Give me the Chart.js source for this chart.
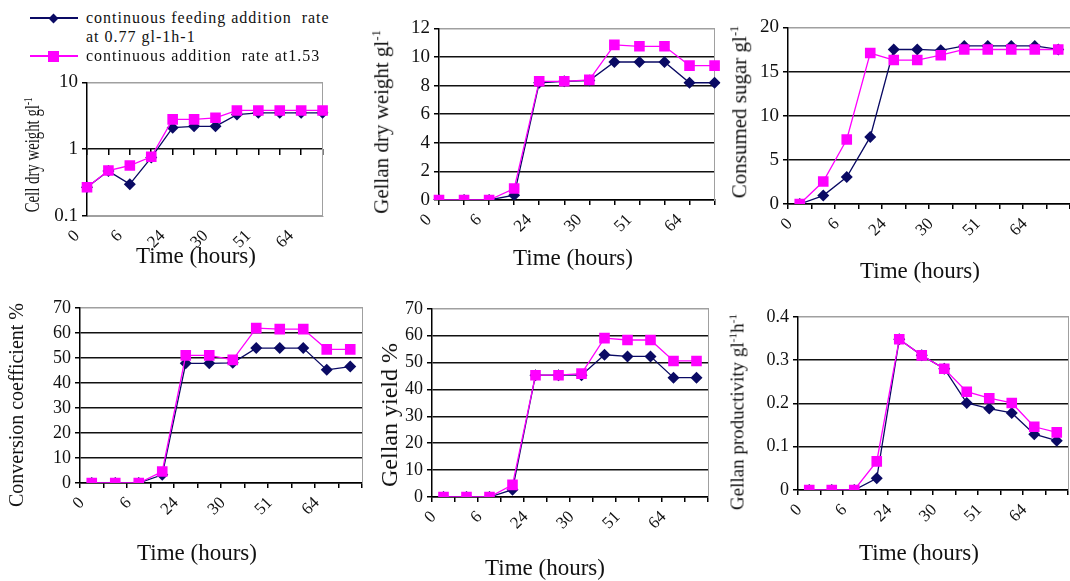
<!DOCTYPE html>
<html>
<head>
<meta charset="utf-8">
<script src="https://cdn.jsdelivr.net/npm/chart.js@4.4.0/dist/chart.umd.min.js"></script>
<style>
  body { margin: 0; background: #fff; }
  #fig { position: relative; width: 1070px; height: 581px; overflow: hidden;
         font-family: 'Liberation Serif', 'Times New Roman', serif; color: #111; }
  #fig canvas { position: absolute; }
  .ttl { position: absolute; white-space: nowrap; line-height: 1; }
  .ttl sup { font-size: 0.6em; vertical-align: 0.6em; }
  .leg { position: absolute; font-size: 16px; letter-spacing: 1px; line-height: 19px; white-space: pre-wrap; width: 262px; }
  .legline { position: absolute; height: 2px; }
  .legmark { position: absolute; }
</style>
</head>
<body>
<div id="fig"></div>
<script>
// tick labels on the time axis, one every second sample
const timeTicks = ['0', '6', '24', '30', '51', '64'];
const categories = [];
timeTicks.forEach(t => { categories.push(t); categories.push(''); });

const seriesNames = ['continuous feeding addition  rate at 0.77 gl-1h-1', 'continuous addition  rate at1.53'];
const seriesColors = ['#0a0a64', '#ff00ff'];

// cell dry weight g/l (log axis)
const cellFeed = [0.27, 0.47, 0.3, 0.75, 2.1, 2.2, 2.2, 3.3, 3.5, 3.5, 3.5, 3.5];
const cellAdd = [0.27, 0.48, 0.57, 0.77, 2.8, 2.8, 2.95, 3.8, 3.8, 3.8, 3.8, 3.8];
// gellan dry weight g/l
const gellanFeed = [0, 0, 0, 0.34, 8.2, 8.3, 8.35, 9.65, 9.65, 9.65, 8.2, 8.2];
const gellanAdd = [0, 0, 0, 0.8, 8.3, 8.3, 8.4, 10.85, 10.75, 10.75, 9.4, 9.4];
// consumed sugar g/l
const sugarFeed = [0, 0.95, 3.05, 7.6, 17.5, 17.5, 17.4, 17.9, 17.9, 17.9, 17.9, 17.5];
const sugarAdd = [0, 2.55, 7.3, 17.1, 16.3, 16.3, 16.85, 17.5, 17.5, 17.5, 17.5, 17.5];
// conversion coefficient %
const convFeed = [0, 0, 0, 3.3, 47.8, 47.8, 48, 53.9, 53.9, 53.9, 45.2, 46.5];
const convAdd = [0, 0, 0, 4.6, 51, 51, 49.2, 61.9, 61.5, 61.5, 53.4, 53.4];
// gellan yield %
const yieldFeed = [0, 0, 0, 2.7, 45.3, 45.3, 45.3, 52.9, 52.3, 52.3, 44.4, 44.4];
const yieldAdd = [0, 0, 0, 4.5, 45.3, 45.3, 45.9, 59.1, 58.4, 58.4, 50.6, 50.6];
// gellan productivity g/l/h
const prodFeed = [0, 0, 0, 0.027, 0.348, 0.311, 0.28, 0.201, 0.188, 0.178, 0.129, 0.114];
const prodAdd = [0, 0, 0, 0.066, 0.348, 0.311, 0.28, 0.227, 0.212, 0.201, 0.146, 0.133];

const panels = [
  { feed: cellFeed, add: cellAdd, log: true, min: 0.1, max: 10, offset: false,
    box: { l: 87, r: 331, t: 79, b: 216 }, fs: 19,
    yTitle: 'Cell dry weight gl<sup>-1</sup>', yT: [32, 155, 20, 0.74], xT: [196, 255] },
  { feed: gellanFeed, add: gellanAdd, min: 0, max: 12, step: 2, offset: false,
    box: { l: 439, r: 718, t: 25, b: 200 }, fs: 19,
    yTitle: 'Gellan dry weight gl<sup>-1</sup>', yT: [381, 122, 21, 1], xT: [573, 257] },
  { feed: sugarFeed, add: sugarAdd, min: 0, max: 20, step: 5, offset: true,
    box: { l: 788, r: 1070, t: 24, b: 204 }, fs: 19,
    yTitle: 'Consumed sugar gl<sup>-1</sup>', yT: [739, 112, 21, 1], xT: [920, 270] },
  { feed: convFeed, add: convAdd, min: 0, max: 70, step: 10, offset: true,
    box: { l: 80, r: 362, t: 305, b: 483 }, fs: 18,
    yTitle: 'Conversion coefficient %', yT: [16, 405, 20, 1], xT: [197, 552] },
  { feed: yieldFeed, add: yieldAdd, min: 0, max: 70, step: 10, offset: true,
    box: { l: 432, r: 708, t: 306, b: 497 }, fs: 18,
    yTitle: 'Gellan yield %', yT: [389, 415, 24, 1], xT: [545, 567] },
  { feed: prodFeed, add: prodAdd, min: 0, max: 0.4, step: 0.1, offset: true,
    box: { l: 798, r: 1068, t: 314, b: 490 }, fs: 18,
    yTitle: 'Gellan productivity gl<sup>-1</sup>h<sup>-1</sup>', yT: [737, 412, 19, 1], xT: [919, 552] }
];

const fig = document.getElementById('fig');
const padL = 70, padT = 12, padR = 16, padB = 60;
const serif = "'Liberation Serif', 'Times New Roman', serif";

function makePanel(p) {
  const c = document.createElement('canvas');
  const w = p.box.r - p.box.l + padL + padR;
  const h = p.box.b - p.box.t + padT + padB;
  c.width = w; c.height = h;
  c.style.left = (p.box.l - padL) + 'px';
  c.style.top = (p.box.t - padT) + 'px';
  c.style.width = w + 'px'; c.style.height = h + 'px';
  fig.appendChild(c);

  const scales = {
    x: {
      type: 'category',
      offset: p.offset,
      grid: { display: true, drawOnChartArea: false, drawTicks: !p.log, tickLength: 5,
              tickColor: '#000', offset: p.offset, lineWidth: 1.5 },
      border: { color: p.log ? '#a0a0a0' : '#000', width: p.log ? 1 : 1.5 },
      ticks: { autoSkip: false, minRotation: 45, maxRotation: 45, labelOffset: -10,
               padding: p.log ? 10 : 5, color: '#111', font: { family: serif, size: 17 } },
      afterFit: s => { s.height = padB; }
    },
    y: {
      type: p.log ? 'logarithmic' : 'linear',
      min: p.min, max: p.max,
      grid: { color: ctx => (ctx.tick && (ctx.tick.value === p.max || (p.log && ctx.tick.value === p.min))) ? '#a0a0a0' : '#111',
              lineWidth: 1.5, tickLength: 5, tickColor: '#000' },
      border: { color: '#000', width: 1.5 },
      ticks: { color: '#111', padding: 4, font: { family: serif, size: p.fs },
               callback: v => (p.log ? String(v) : String(Math.round(v * 10) / 10)) },
      afterFit: s => { s.width = padL; }
    },
    yR: {
      type: 'linear', position: 'right',
      grid: { display: false }, ticks: { display: false },
      border: { color: '#a0a0a0', width: 1 },
      afterFit: s => { s.width = 0; }
    }
  };
  if (p.log) {
    scales.y.afterBuildTicks = s => { s.ticks = [0.1, 1, 10].map(v => ({ value: v })); };
    // excel draws the category axis where y = 1
    scales.x2 = {
      type: 'category', position: { y: 1 }, offset: false,
      grid: { drawOnChartArea: false, drawTicks: true, tickLength: 6, tickColor: '#000', lineWidth: 1.5 },
      border: { display: false },
      ticks: { callback: () => '' }
    };
  } else {
    scales.y.ticks.stepSize = p.step;
  }

  new Chart(c, {
    type: 'line',
    data: {
      labels: categories,
      datasets: [
        { label: seriesNames[1], data: p.add, order: 0, borderColor: seriesColors[1], backgroundColor: seriesColors[1],
          borderWidth: 1.3, pointStyle: 'rect', pointRadius: 7.5, pointBorderWidth: 0, tension: 0 },
        { label: seriesNames[0], data: p.feed, order: 1, borderColor: seriesColors[0], backgroundColor: seriesColors[0],
          borderWidth: 1.3, pointStyle: 'rectRot', pointRadius: 6, pointBorderWidth: 0, tension: 0 }
      ]
    },
    options: {
      responsive: false, animation: false, devicePixelRatio: 1,
      layout: { padding: { left: 0, top: padT, right: padR, bottom: 0 } },
      plugins: { legend: { display: false }, tooltip: { enabled: false } },
      scales: scales
    }
  });

  // axis titles
  const yt = document.createElement('div');
  yt.className = 'ttl';
  yt.innerHTML = p.yTitle;
  yt.style.fontSize = p.yT[2] + 'px';
  yt.style.left = p.yT[0] + 'px';
  yt.style.top = p.yT[1] + 'px';
  yt.style.transform = 'translate(-50%, -50%) rotate(-90deg) scaleX(' + p.yT[3] + ')';
  fig.appendChild(yt);

  const xt = document.createElement('div');
  xt.className = 'ttl';
  xt.textContent = 'Time (hours)';
  xt.style.fontSize = '23px';
  xt.style.left = p.xT[0] + 'px';
  xt.style.top = p.xT[1] + 'px';
  xt.style.transform = 'translate(-50%, -50%)';
  fig.appendChild(xt);
}

panels.forEach(makePanel);

// legend above the first panel
const legendRows = [8, 46];
seriesNames.forEach((name, i) => {
  const y = legendRows[i];
  const line = document.createElement('div');
  line.className = 'legline';
  line.style.cssText = `left:30px;top:${y + 9}px;width:48px;background:${seriesColors[i]}`;
  fig.appendChild(line);
  const m = document.createElement('div');
  m.className = 'legmark';
  if (i === 0) {
    m.style.cssText = `left:50px;top:${y + 6.5}px;width:7px;height:7px;background:${seriesColors[i]};transform:rotate(45deg)`;
  } else {
    m.style.cssText = `left:48px;top:${y + 4.5}px;width:11px;height:11px;background:${seriesColors[i]}`;
  }
  fig.appendChild(m);
  const t = document.createElement('div');
  t.className = 'leg';
  t.style.left = '86px';
  t.style.top = y + 'px';
  t.textContent = name;
  fig.appendChild(t);
});
</script>
</body>
</html>
